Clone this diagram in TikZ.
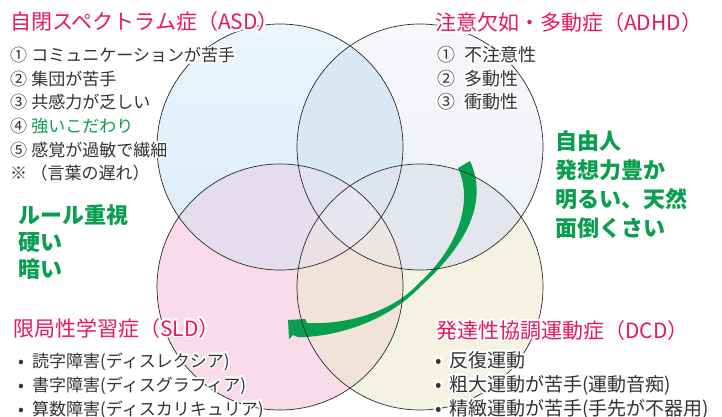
\documentclass[tikz,border=0pt]{standalone}
\usepackage{fontspec}
\setmainfont{Noto Sans CJK JP}
\usepackage{contour}
\contourlength{1.5pt}
\contournumber{24}
\definecolor{cTL}{HTML}{DAEDF9}
\definecolor{cTLtop}{HTML}{EAF5FC}
\definecolor{cTR}{HTML}{EDF0F7}
\definecolor{cTRtop}{HTML}{F6F7FB}
\definecolor{cBL}{HTML}{F9DBE9}
\definecolor{cBR}{HTML}{F4F2E0}
\definecolor{cTLTR}{HTML}{DAE7F4}
\definecolor{cTLBL}{HTML}{E3DDEE}
\definecolor{cTRBR}{HTML}{E3E7ED}
\definecolor{cBLBR}{HTML}{F1E2DA}
\definecolor{cDiag}{HTML}{E6E4EC}
\definecolor{cTLTRBL}{HTML}{E0E2F0}
\definecolor{cTLTRBR}{HTML}{DFE5EF}
\definecolor{cTLBLBR}{HTML}{EBE1E6}
\definecolor{cTRBLBR}{HTML}{ECE6E2}
\definecolor{cAll}{HTML}{E7E6EE}
\definecolor{ttlpink}{HTML}{E6185E}
\definecolor{grn}{HTML}{0A9E4F}
\definecolor{txt}{HTML}{333333}
\definecolor{edge}{HTML}{2B2B2B}
\newcommand\hl[1]{\contour{white}{#1}}
\tikzset{
  ttl/.style={font=\fontsize{21}{21}\selectfont, text=ttlpink, inner sep=0pt, anchor=base west},
  item/.style={font=\fontsize{17}{17}\selectfont, text=txt, inner sep=0pt, anchor=base west},
  itemb/.style={font=\fontsize{18}{18}\selectfont, text=txt, inner sep=0pt, anchor=base west},
  itemc/.style={font=\fontsize{19}{19}\selectfont, text=txt, inner sep=0pt, anchor=base west},
  gtxt/.style={font=\fontsize{22}{22}\selectfont\bfseries, text=grn, inner sep=0pt, anchor=base west},
  ring/.style={draw=edge, line width=0.7pt},
}
\def\R{123pt}
\begin{document}
\begin{tikzpicture}[x=1pt,y=-1pt]
\useasboundingbox (0,0) rectangle (722,417);
\fill[white] (0,0) rectangle (722,417);
\coordinate (TL) at (280,147);
\coordinate (TR) at (420,147);
\coordinate (BL) at (280,287);
\coordinate (BR) at (420,287);
% single fills
\shade[top color=cTLtop, bottom color=cTL] (TL) circle[radius=\R];
\shade[top color=cTRtop, bottom color=cTR] (TR) circle[radius=\R];
\fill[cBL] (BL) circle[radius=\R];
\fill[cBR] (BR) circle[radius=\R];
% pairs
\begin{scope}\clip (TL) circle[radius=\R]; \fill[cTLTR] (TR) circle[radius=\R];\end{scope}
\begin{scope}\clip (TL) circle[radius=\R]; \fill[cTLBL] (BL) circle[radius=\R];\end{scope}
\begin{scope}\clip (TR) circle[radius=\R]; \fill[cTRBR] (BR) circle[radius=\R];\end{scope}
\begin{scope}\clip (BL) circle[radius=\R]; \fill[cBLBR] (BR) circle[radius=\R];\end{scope}
\begin{scope}\clip (TL) circle[radius=\R]; \fill[cDiag] (BR) circle[radius=\R];\end{scope}
\begin{scope}\clip (TR) circle[radius=\R]; \fill[cDiag] (BL) circle[radius=\R];\end{scope}
% triples
\begin{scope}\clip (TL) circle[radius=\R]; \clip (TR) circle[radius=\R]; \fill[cTLTRBL] (BL) circle[radius=\R];\end{scope}
\begin{scope}\clip (TL) circle[radius=\R]; \clip (TR) circle[radius=\R]; \fill[cTLTRBR] (BR) circle[radius=\R];\end{scope}
\begin{scope}\clip (TL) circle[radius=\R]; \clip (BL) circle[radius=\R]; \fill[cTLBLBR] (BR) circle[radius=\R];\end{scope}
\begin{scope}\clip (TR) circle[radius=\R]; \clip (BL) circle[radius=\R]; \fill[cTRBLBR] (BR) circle[radius=\R];\end{scope}
% all four
\begin{scope}\clip (TL) circle[radius=\R]; \clip (TR) circle[radius=\R]; \clip (BL) circle[radius=\R]; \fill[cAll] (BR) circle[radius=\R];\end{scope}
% green swoosh arrow
\fill[grn] (458,168) -- (470,161)
  .. controls (487,198) and (472,240) .. (420,287)
  .. controls (392,316) and (350,334) .. (306,337)
  -- (298,337) -- (293,335) -- (289,339) -- (288,320) -- (305,319) -- (307,323)
  .. controls (350,325) and (395,310) .. (419,283)
  .. controls (460,246) and (473,200) .. (458,168) -- cycle;
% outlines
\draw[ring] (TL) circle[radius=\R];
\draw[ring] (TR) circle[radius=\R];
\draw[ring] (BL) circle[radius=\R];
\draw[ring] (BR) circle[radius=\R];
% ASD
\node[ttl] (asdT) at (10,30) {\hl{自閉スペクトラム症（ASD）}};
\node[item] (asd1) at (10,62) {\hl{①\hspace{0.25em}コミュニケーションが苦手}};
\node[item] (asd2) at (10,85.5) {\hl{②\hspace{0.25em}集団が苦手}};
\node[item] (asd3) at (10,109) {\hl{③\hspace{0.25em}共感力が乏しい}};
\node[item] (asd4) at (10,132.5) {\hl{④\hspace{0.25em}\textcolor{grn}{強いこだわり}}};
\node[item] (asd5) at (10,156) {\hl{⑤\hspace{0.25em}感覚が過敏で繊細}};
\node[item] (asd6) at (10,179.5) {\hl{※\hspace{0.2em}（言葉の遅れ）}};
% ADHD
\node[ttl] (adhdT) at (435,31) {\hl{注意欠如・多動症（ADHD）}};
\node[itemb] (adhd1) at (437,62) {\hl{①\hspace{0.5em}不注意性}};
\node[itemb] (adhd2) at (437,86) {\hl{②\hspace{0.5em}多動性}};
\node[itemb] (adhd3) at (437,109) {\hl{③\hspace{0.5em}衝動性}};
% right green
\node[gtxt] (g1) at (555,149.5) {自由人};
\node[gtxt] (g2) at (555,178.5) {発想力豊か};
\node[gtxt] (g3) at (555,207.5) {明るい、天然};
\node[gtxt] (g4) at (555,236.5) {面倒くさい};
% left green
\node[gtxt] (l1) at (18,223.5) {ルール重視};
\node[gtxt] (l2) at (18,250.5) {硬い};
\node[gtxt] (l3) at (18,277) {暗い};
% SLD
\node[ttl] (sldT) at (13,336) {\hl{限局性学習症（SLD）}};
\node[item] (sld1) at (18,367) {\hl{\makebox[14pt][l]{•}読字障害(ディスレクシア)}};
\node[item] (sld2) at (18,391) {\hl{\makebox[14pt][l]{•}書字障害(ディスグラフィア)}};
\node[item] (sld3) at (18,415) {\hl{\makebox[14pt][l]{•}算数障害(ディスカリキュリア)}};
% DCD
\node[ttl] (dcdT) at (436,338) {\hl{発達性協調運動症（DCD）}};
\node[itemc] (dcd1) at (435,367) {\hl{\makebox[14pt][l]{•}反復運動}};
\node[itemc] (dcd2) at (435,391) {\hl{\makebox[14pt][l]{•}粗大運動が苦手(運動音痴)}};
\node[itemc] (dcd3) at (435,415) {\hl{\makebox[14pt][l]{•}精緻運動が苦手(手先が不器用)}};
\end{tikzpicture}
\end{document}
